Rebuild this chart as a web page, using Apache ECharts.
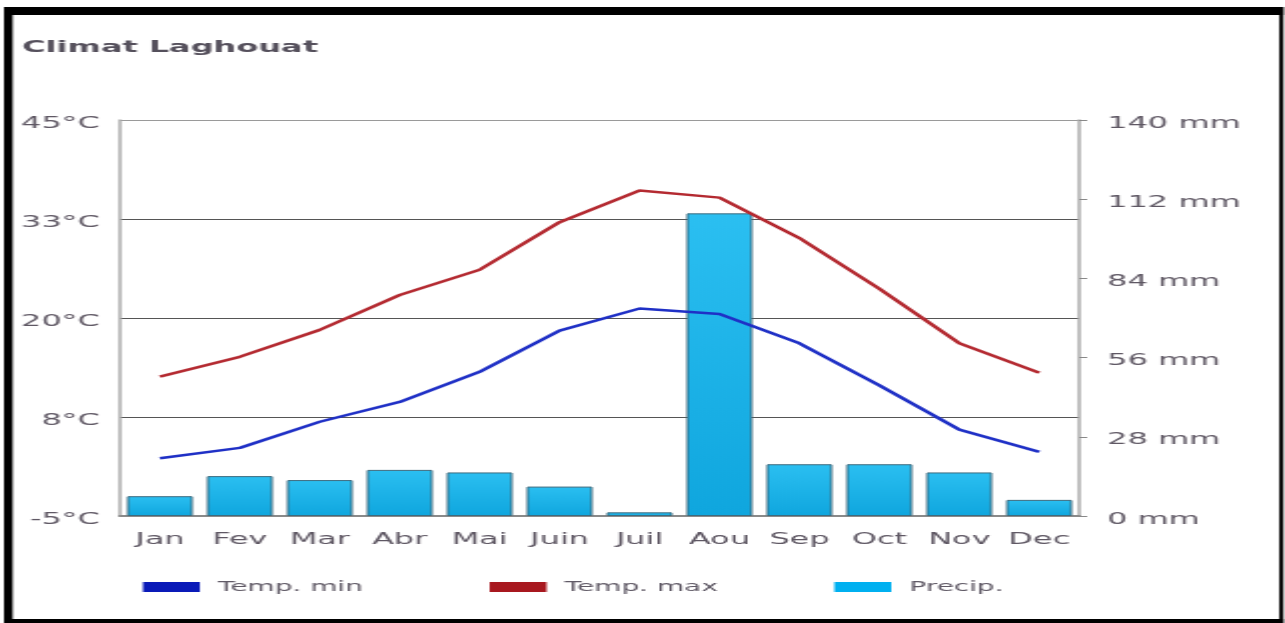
<!DOCTYPE html>
<html>
<head>
<meta charset="utf-8">
<title>Climat Laghouat</title>
<script src="https://cdn.jsdelivr.net/npm/echarts@6/dist/echarts.min.js"></script>
<style>
  html, body { margin: 0; padding: 0; background: #ffffff; overflow: hidden; }
  #stage { width: 1285px; height: 623px; overflow: hidden; }
  /* chart is laid out at half width and widened to the full frame */
  #chart { width: 643px; height: 623px; transform: scaleX(1.99844); transform-origin: 0 0; }
</style>
</head>
<body>
<div id="stage"><div id="chart"></div></div>
<script>
// Monthly climate data for Laghouat
const months = ['Jan', 'Fev', 'Mar', 'Abr', 'Mai', 'Juin', 'Juil', 'Aou', 'Sep', 'Oct', 'Nov', 'Dec'];
const tempMin = [2.3, 3.6, 6.9, 9.4, 13.2, 18.4, 21.2, 20.5, 16.8, 11.5, 5.9, 3.1];
const tempMax = [12.6, 15.1, 18.5, 22.9, 26.1, 32.1, 36.1, 35.2, 30.1, 23.7, 16.8, 13.1];
const precip = [7, 14.1, 12.7, 16.3, 15.4, 10.4, 1.3, 107, 18.3, 18.3, 15.4, 5.7];

// Axis tick labels
const tempTicks = ['-5°C', '8°C', '20°C', '33°C', '45°C'];
const precipTicks = ['0 mm', '28 mm', '56 mm', '84 mm', '112 mm', '140 mm'];

const FONT = 'DejaVu Sans';
const LABEL_COLOR = '#5f5864';

const chart = echarts.init(document.getElementById('chart'), null, { renderer: 'canvas' });

function legendBox(left, name, color) {
  return {
    left: left, top: 580, padding: 0, icon: 'rect',
    itemWidth: 28.5, itemHeight: 10, selectedMode: false,
    data: [{ name: name, itemStyle: { color: color, borderWidth: 0 } }],
    textStyle: { fontFamily: FONT, fontSize: 14, color: '#605a66', padding: [0, 0, 0, 4] }
  };
}

// tick label text, nudged slightly below its tick
const tickRich = { t: { fontFamily: FONT, fontSize: 16, color: LABEL_COLOR, padding: [7, 0, 0, 0] } };

chart.setOption({
  animation: false,
  backgroundColor: '#ffffff',
  title: {
    text: 'Climat Laghouat', left: 11, top: 40, padding: 0,
    textStyle: { fontFamily: FONT, fontSize: 16, fontWeight: 'bold', color: '#55505c' }
  },
  legend: [
    legendBox(71.5, 'Temp. min', '#0a1ab8'),
    legendBox(245, 'Temp. max', '#a8181f'),
    legendBox(417.5, 'Precip.', '#00b0f0')
  ],
  grid: { left: 60, right: 103, top: 120, bottom: 107 },
  xAxis: {
    type: 'category', data: months,
    axisLine: { onZero: false, lineStyle: { color: '#8a8a8a', width: 2 } },
    axisTick: { show: false },
    axisLabel: { interval: 0, margin: 16, fontFamily: FONT, fontSize: 16, color: LABEL_COLOR }
  },
  yAxis: [
    {
      type: 'value', position: 'left', min: -5, max: 45, interval: 12.5,
      axisLine: { show: true, lineStyle: { color: '#ababab', width: 1.5 } },
      axisTick: { show: false },
      axisLabel: {
        margin: 10, rich: tickRich,
        formatter: (v, i) => '{t|' + tempTicks[i] + '}'
      },
      splitLine: { show: true, lineStyle: { color: ['#666666', '#555555', '#555555', '#555555', '#9a9a9a'], width: 1 } }
    },
    {
      type: 'value', position: 'right', min: 0, max: 140, interval: 28,
      axisLine: { show: true, lineStyle: { color: '#ababab', width: 1.5 } },
      axisTick: { show: true, length: 4, lineStyle: { color: '#888888', width: 1 } },
      axisLabel: {
        margin: 14, rich: tickRich,
        formatter: (v, i) => '{t|' + precipTicks[i] + '}'
      },
      splitLine: { show: false }
    }
  ],
  series: [
    {
      name: 'Precip.', type: 'bar', yAxisIndex: 1, data: precip, barWidth: 33, z: 1,
      itemStyle: {
        color: new echarts.graphic.LinearGradient(0, 0, 0, 1, [
          { offset: 0, color: '#2bbff1' },
          { offset: 1, color: '#0fa6de' }
        ]),
        borderColor: '#3e6b7e', borderWidth: 1
      }
    },
    {
      name: 'Temp. min', type: 'line', yAxisIndex: 0, data: tempMin, symbol: 'none', z: 3,
      itemStyle: { color: '#0a1ab8' },
      lineStyle: { color: '#1f30c6', width: 2.5 }
    },
    {
      name: 'Temp. max', type: 'line', yAxisIndex: 0, data: tempMax, symbol: 'none', z: 3,
      itemStyle: { color: '#a8181f' },
      lineStyle: { color: '#b42a31', width: 2.5 }
    }
  ],
  graphic: [
    // black frame around the chart
    { type: 'rect', shape: { x: 2, y: 7, width: 640.2, height: 8 }, style: { fill: '#000' }, silent: true },
    { type: 'rect', shape: { x: 2, y: 7, width: 4.35, height: 616 }, style: { fill: '#000' }, silent: true },
    { type: 'rect', shape: { x: 640.1, y: 7, width: 2.1, height: 616 }, style: { fill: '#000' }, silent: true },
    { type: 'rect', shape: { x: 2, y: 619, width: 640.2, height: 4 }, style: { fill: '#000' }, silent: true }
  ]
});
</script>
</body>
</html>
